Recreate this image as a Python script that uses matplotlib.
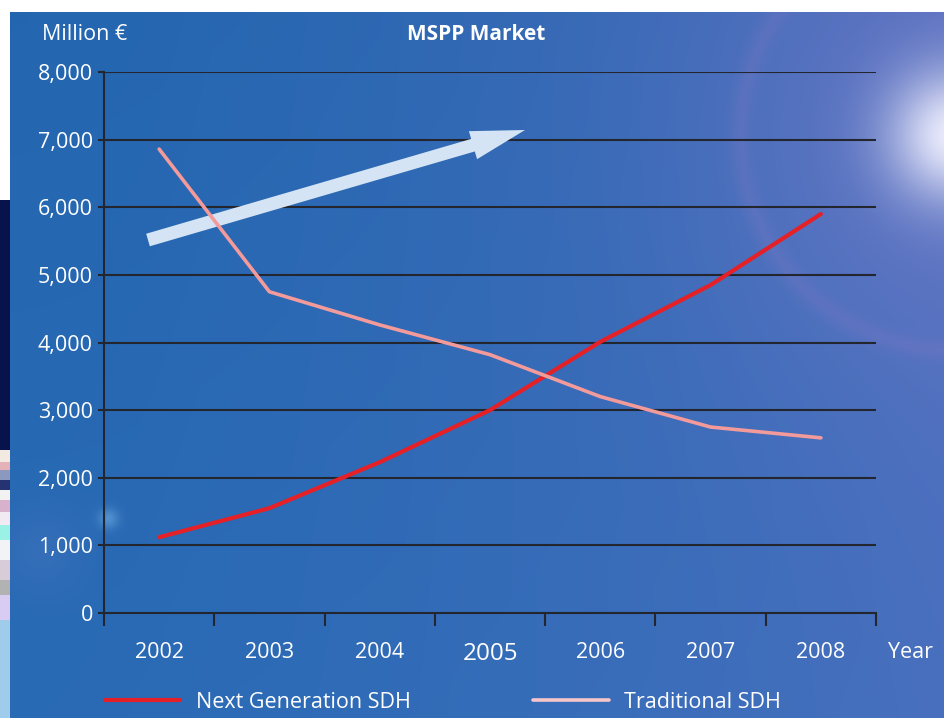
import numpy as np
import matplotlib
matplotlib.use("Agg")
import matplotlib.pyplot as plt

plt.rcParams['font.family'] = ['Open Sans', 'DejaVu Sans']

years = ['2002', '2003', '2004', '2005', '2006', '2007', '2008']
next_gen_sdh = [1120, 1550, 2230, 3000, 4010, 4850, 5900]
traditional_sdh = [6860, 4750, 4260, 3820, 3200, 2750, 2590]
y_ticks = [0, 1000, 2000, 3000, 4000, 5000, 6000, 7000, 8000]
y_labels = ['0', '1,000', '2,000', '3,000', '4,000', '5,000', '6,000', '7,000', '8,000']

W, H = 944, 718
fig = plt.figure(figsize=(W / 100, H / 100), dpi=100)

# ---- background image ----
xx, yy = np.meshgrid(np.arange(W), np.arange(H))
t = (xx / W) ** 1.6
c_left = np.array([0.14, 0.40, 0.69])
c_right = np.array([0.31, 0.43, 0.74])
img = c_left[None, None, :] * (1 - t[..., None]) + c_right[None, None, :] * t[..., None]
v = (yy / H)[..., None]
img = img * (1 - 0.3 * v) + np.array([0.22, 0.46, 0.76]) * 0.3 * v
d = np.hypot(xx - 955, yy - 135)
purple = np.array([0.50, 0.50, 0.80])
w1 = 0.42 * np.exp(-(d / 240.0) ** 2)
img = img * (1 - w1[..., None]) + purple * w1[..., None]
ring = 0.15 * np.exp(-((d - 215) / 10.0) ** 2)
img = img * (1 - ring[..., None]) + np.array([0.65, 0.50, 0.80]) * ring[..., None]
glow = 0.95 * np.exp(-(d / 65.0) ** 2)
img = img * (1 - glow[..., None]) + np.array([0.95, 0.95, 1.0]) * glow[..., None]
d2 = np.hypot(xx - 108, yy - 518)
g2 = 0.35 * np.exp(-(d2 / 10.0) ** 2)
img = img * (1 - g2[..., None]) + np.array([0.6, 0.85, 1.0]) * g2[..., None]
d3 = np.hypot(xx - 40, yy - 550)
g3 = 0.12 * np.exp(-(d3 / 40.0) ** 2)
img = img * (1 - g3[..., None]) + np.array([0.55, 0.55, 0.85]) * g3[..., None]
# white top strip and left strip
img[:12, :, :] = 1.0
img[:200, :10, :] = 1.0
img[200:450, :10, :] = np.array([0.03, 0.08, 0.30])
bands = [(450, 462, (0.95, 0.92, 0.88)), (462, 470, (0.90, 0.70, 0.72)), (470, 480, (0.55, 0.60, 0.75)),
         (480, 490, (0.15, 0.20, 0.45)), (490, 500, (0.95, 0.95, 0.95)), (500, 512, (0.85, 0.70, 0.80)),
         (512, 525, (0.95, 0.92, 0.95)), (525, 540, (0.60, 0.95, 0.90)), (540, 560, (0.95, 0.95, 0.97)),
         (560, 580, (0.85, 0.80, 0.85)), (580, 595, (0.70, 0.70, 0.70)), (595, 620, (0.85, 0.80, 0.95)),
         (620, 718, (0.62, 0.80, 0.92))]
for a, b, c in bands:
    img[a:b, :10, :] = np.array(c)
img = np.clip(img, 0, 1)

bg = fig.add_axes([0, 0, 1, 1], zorder=-10)
bg.imshow(img, aspect='auto', interpolation='bilinear')
bg.axis('off')

# ---- main axes ----
ax = fig.add_axes([104 / W, 1 - 613 / H, (876 - 104) / W, (613 - 72) / H])
ax.patch.set_alpha(0)
x = np.arange(len(years))

grid_c = '#23262e'
for yv in y_ticks[1:]:
    ax.axhline(yv, color=grid_c, lw=1.5, zorder=1)

ax.plot(x, next_gen_sdh, color='#e52026', lw=3.0, solid_capstyle='round', zorder=4,
        label='Next Generation SDH')
ax.plot(x, traditional_sdh, color='#f39a9b', lw=2.6, solid_capstyle='round', zorder=4,
        label='Traditional SDH')

ax.set_xlim(-0.5, len(years) - 0.5)
ax.set_ylim(0, 8000)
for s in ['top', 'right']:
    ax.spines[s].set_visible(False)
ax.spines['left'].set_color(grid_c)
ax.spines['bottom'].set_color(grid_c)
ax.spines['left'].set_linewidth(1.5)
ax.spines['bottom'].set_linewidth(1.5)

ax.set_xticks(np.arange(-0.5, len(years)))
ax.set_xticklabels([])
ax.tick_params(axis='x', which='major', length=9, width=1.5, color=grid_c, direction='out')
ax.set_xticks(x, minor=True)
ax.set_xticklabels(years, minor=True)
ax.tick_params(axis='x', which='minor', length=0, pad=21, labelsize=15.5, labelcolor='white')
for lbl in ax.get_xticklabels(minor=True):
    if lbl.get_text() == '2005':
        lbl.set_fontsize(17.5)

ax.set_yticks(y_ticks)
ax.set_yticklabels(y_labels)
ax.tick_params(axis='y', length=4, width=1.5, color=grid_c, pad=4, labelsize=15.5, labelcolor='white')

# arrow
ax.annotate('', xy=(525, H - 130), xytext=(148, H - 240), xycoords='figure pixels',
            textcoords='figure pixels',
            arrowprops=dict(arrowstyle='simple,head_length=1.95,head_width=1.05,tail_width=0.47',
                            mutation_scale=20, color='#d4e4f4', lw=0, shrinkA=0, shrinkB=0),
            zorder=2)

fig.text(85 / W, 1 - 34 / H, 'Million €', color='white', fontsize=15.5, ha='center', va='center')
fig.text(476 / W, 1 - 34 / H, 'MSPP Market', color='white', fontsize=15, fontweight='bold',
         ha='center', va='center')
fig.text(911 / W, 1 - 652 / H, 'Year', color='white', fontsize=15.5, ha='center', va='center')

leg = fig.legend(loc='center left', bbox_to_anchor=(105 / W, 1 - 702 / H), ncol=2, frameon=False,
                 fontsize=15.5, handlelength=3.5, handletextpad=0.72, columnspacing=5.7,
                 borderpad=0, borderaxespad=0)
for txt in leg.get_texts():
    txt.set_color('white')
leg.get_lines()[1].set_color('#f7c6c9')

fig.savefig('out.png', dpi=100)
